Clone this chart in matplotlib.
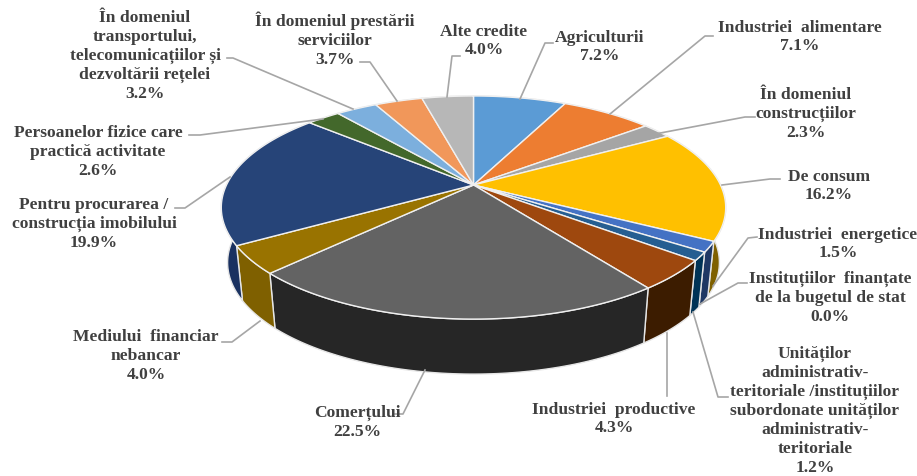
import numpy as np
import matplotlib
matplotlib.use('Agg')
import matplotlib.pyplot as plt
from matplotlib.patches import Polygon

plt.rcParams['font.family'] = ['Liberation Serif', 'DejaVu Serif']

labels = ['Agriculturii', 'Industriei  alimentare', 'În domeniul\nconstrucțiilor', 'De consum',
          'Industriei  energetice', 'Instituțiilor  finanțate\nde la bugetul de stat',
          'Unităților\nadministrativ-\nteritoriale /instituțiilor\nsubordonate unităților\nadministrativ-\nteritoriale',
          'Industriei  productive', 'Comerțului', 'Mediului  financiar\nnebancar',
          'Pentru procurarea /\nconstrucția imobilului', 'Persoanelor fizice care\npractică activitate',
          'În domeniul\ntransportului,\ntelecomunicațiilor și\ndezvoltării rețelei',
          'În domeniul prestării\nserviciilor', 'Alte credite']
values = [7.2, 7.1, 2.3, 16.2, 1.5, 0.0, 1.2, 4.3, 22.5, 4.0, 19.9, 2.6, 3.2, 3.7, 4.0]
top_colors = ['#5b9bd5', '#ed7d31', '#a5a5a5', '#ffc000', '#4472c4', '#5b9bd5', '#255e91', '#9e480e',
              '#636363', '#997300', '#264478', '#43682b', '#7cafdd', '#f1975a', '#b7b7b7']
side_colors = ['#3d6f9e', '#b05a20', '#777777', '#7f6000', '#1f3864', '#1f3864', '#003356', '#3c1c00',
               '#262626', '#7f6000', '#1a3160', '#2f4a1e', '#5a84aa', '#b06f40', '#888888']

label_pos = [(600, 47), (800, 37), (806, 114), (829, 186), (838, 244), (830, 298), (815, 411), (614, 419),
             (357, 422), (146, 356), (94, 224), (98, 152), (145, 56), (335, 40), (484, 41)]
leaders = [[(553, 44), (545, 44), (520, 100)],
           [(713, 37), (705, 37), (610, 115)],
           [(755, 118), (745, 118), (655, 135)],
           [(780, 180), (770, 180), (722, 186)],
           [(757, 238), (748, 239), (713, 287)],
           [(747, 284), (738, 284), (700, 305)],
           [(728, 398), (718, 398), (693, 313)],
           [(667, 397), (667, 334)],
           [(395, 415), (403, 415), (425, 371)],
           [(222, 343), (232, 343), (260, 322)],
           [(175, 209), (185, 209), (230, 178)],
           [(189, 136), (200, 136), (323, 120)],
           [(227, 59), (233, 59), (353, 110)],
           [(360, 63), (370, 63), (397, 102)],
           [(460, 57), (452, 57), (447, 98)]]

# pie apex and perspective, measured in pixels
cx, cy = 473.5, 186
rx, ry = 247, 107
k = 0.202
depth = 55
shrink = 0.975


def rim(theta):
    u, v = np.sin(theta), np.cos(theta)
    d = 1 + k * v
    return cx + rx * u / d, cy - ry * v / d


def rim_low(theta):
    x, y = rim(theta)
    return cx + shrink * (x - cx), y + depth


fig = plt.figure(figsize=(9.17, 4.77), dpi=100)
ax = fig.add_axes([0, 0, 1, 1])
ax.set_xlim(0, 917)
ax.set_ylim(477, 0)
ax.axis('off')

edges = np.cumsum([0] + values) / sum(values) * 2 * np.pi

# side wall first, the top covers the back part
for i in range(len(values)):
    if values[i] == 0:
        continue
    t = np.linspace(edges[i], edges[i + 1], 80)
    xt, yt = rim(t)
    xb, yb = rim_low(t)
    pts = np.column_stack([np.r_[xt, xb[::-1]], np.r_[yt, yb[::-1]]])
    ax.add_patch(Polygon(pts, fc=side_colors[i], ec='#e6e6e6', lw=1.0, joinstyle='round', zorder=1))

for i in range(len(values)):
    if values[i] == 0:
        continue
    t = np.linspace(edges[i], edges[i + 1], 80)
    xt, yt = rim(t)
    pts = np.column_stack([np.r_[cx, xt], np.r_[cy, yt]])
    ax.add_patch(Polygon(pts, fc=top_colors[i], ec='#f0f0f0', lw=1.0, joinstyle='round', zorder=2))

for line in leaders:
    ax.plot([p[0] for p in line], [p[1] for p in line], color='#a6a6a6', lw=1.2, zorder=3)

for i in range(len(labels)):
    txt = labels[i] + '\n' + f'{values[i]:.1f}%'
    ax.text(label_pos[i][0], label_pos[i][1], txt, ha='center', va='center', fontsize=12.6,
            fontweight='bold', color='#404040', linespacing=1.24, zorder=4)

fig.savefig('out.png', dpi=100)
